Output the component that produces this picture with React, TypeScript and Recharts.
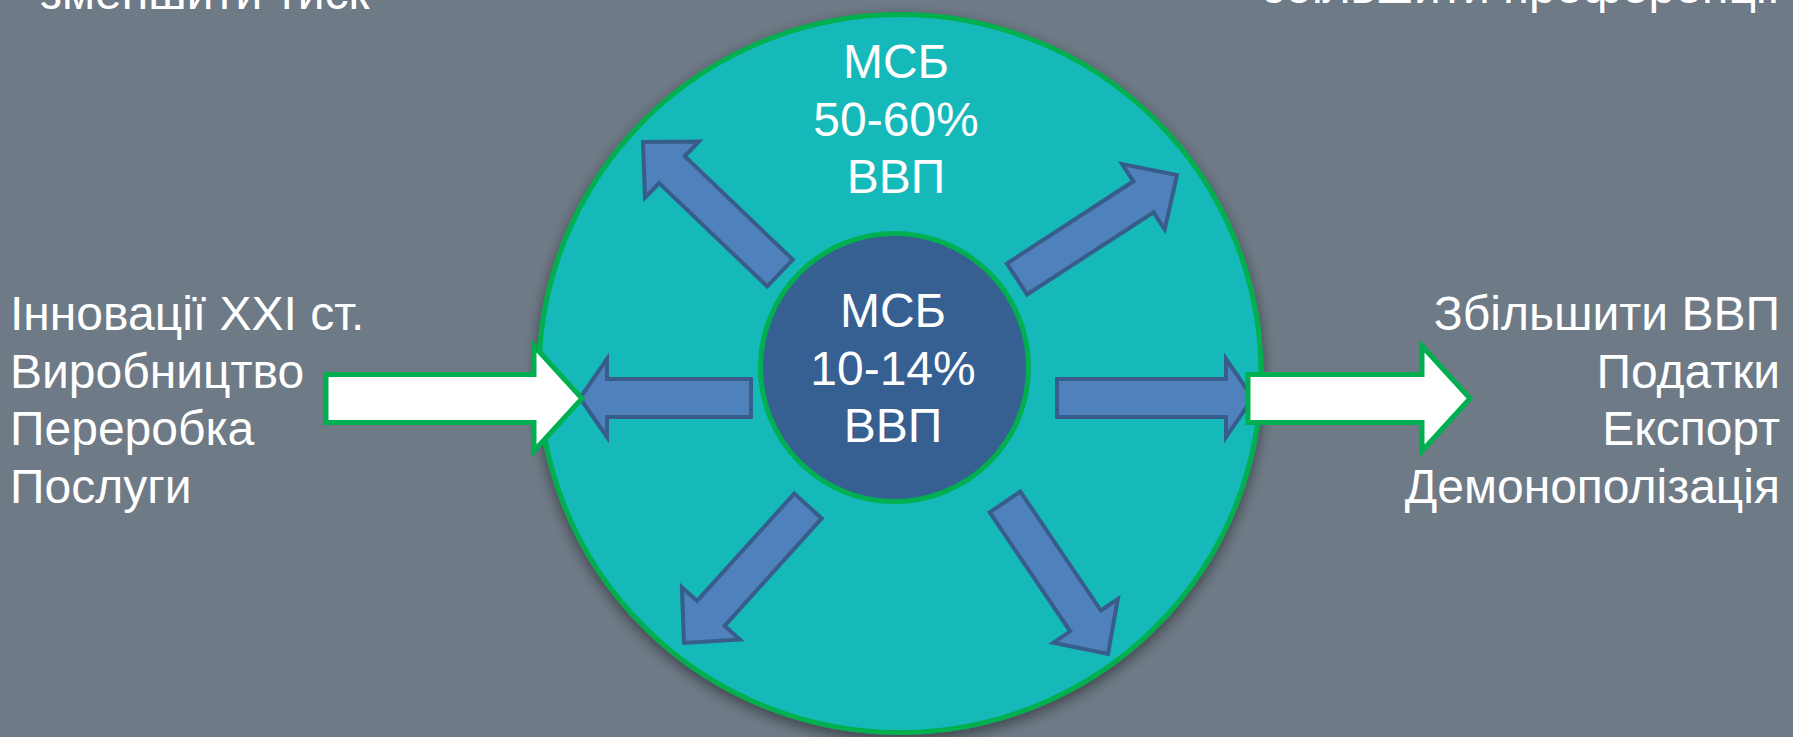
import { ScatterChart, Scatter, XAxis, YAxis } from "recharts";

const CHART_W = 1793;
const CHART_H = 737;

// diagram space: one unit per slide pixel, y grows downwards
const X_DOMAIN = [0, 1793];
const Y_DOMAIN = [0, 737];

const rings = [
  { name: "outer", x: 900, y: 373.5, rx: 361, ry: 359 },
  { name: "inner", x: 894.5, y: 367.5, rx: 134, ry: 134 },
];

// tail point (x, y) and tip point of each blue arrow
const blueArrows = [
  { x: 751, y: 398, tipX: 580, tipY: 398, kind: "flat" },
  { x: 1057, y: 398, tipX: 1253, tipY: 398, kind: "flat" },
  { x: 780, y: 273, tipX: 643, tipY: 142, kind: "diag" },
  { x: 1017, y: 279, tipX: 1177, tipY: 175, kind: "diag" },
  { x: 808, y: 506, tipX: 684, tipY: 643, kind: "diag" },
  { x: 1005, y: 502, tipX: 1108, tipY: 654, kind: "diag" },
];

const whiteArrows = [
  { x: 326, y: 398.5, tipX: 582, tipY: 398.5, kind: "big" },
  { x: 1248, y: 398.5, tipX: 1470, tipY: 398.5, kind: "big" },
];

const outerLines = ["МСБ", "50-60%", "ВВП"];
const innerLines = ["МСБ", "10-14%", "ВВП"];
const leftLines = ["Інновації XXI ст.", "Виробництво", "Переробка", "Послуги"];
const rightLines = ["Збільшити ВВП", "Податки", "Експорт", "Демонополізація"];
const topLeftLines = ["зменшити тиск"];
const topRightLines = ["збільшити преференції"];

const textBlocks = [
  { lines: outerLines, x: 896, y: 78, anchor: "middle" },
  { lines: innerLines, x: 893, y: 327, anchor: "middle" },
  { lines: leftLines, x: 10, y: 330, anchor: "start" },
  { lines: rightLines, x: 1780, y: 330, anchor: "end" },
  { lines: topLeftLines, x: 40, y: 9, anchor: "start" },
  { lines: topRightLines, x: 1780, y: 3, anchor: "end" },
];

const LINE_GAP = 57.5;
const K = CHART_W / (X_DOMAIN[1] - X_DOMAIN[0]);

const labels = textBlocks.flatMap((b) =>
  b.lines.map((text, i) => ({ x: b.x, y: b.y + i * LINE_GAP, text, anchor: b.anchor }))
);

const arrowSizes: Record<string, { bw: number; hw: number; hl: number }> = {
  flat: { bw: 19, hw: 39, hl: 27 },
  diag: { bw: 18.5, hw: 39, hl: 40 },
  big: { bw: 24, hw: 52.5, hl: 48 },
};

const BG = "#6e7a86";
const GREEN = "#00b050";
const FONT = "'Liberation Sans', Arial, sans-serif";

function arrowPath(cx: number, cy: number, dx: number, dy: number, kind: string) {
  const { bw, hw, hl } = arrowSizes[kind];
  const len = Math.hypot(dx, dy);
  const ux = dx / len;
  const uy = dy / len;
  const nx = -uy;
  const ny = ux;
  const tx = cx + dx;
  const ty = cy + dy;
  const bx = tx - ux * hl;
  const by = ty - uy * hl;
  const pts = [
    [cx + nx * bw, cy + ny * bw],
    [bx + nx * bw, by + ny * bw],
    [bx + nx * hw, by + ny * hw],
    [tx, ty],
    [bx - nx * hw, by - ny * hw],
    [bx - nx * bw, by - ny * bw],
    [cx - nx * bw, cy - ny * bw],
  ];
  return "M" + pts.map((p) => p[0].toFixed(1) + "," + p[1].toFixed(1)).join("L") + "Z";
}

const RingShape = (props: any) => {
  const { cx, cy } = props;
  const d = props.payload ?? props;
  const outer = d.name === "outer";
  return (
    <g>
      {outer && (
        <defs>
          <filter id="ringShadow" x="-20%" y="-20%" width="140%" height="140%">
            <feDropShadow dx="0" dy="5" stdDeviation="7" floodColor="#000" floodOpacity="0.45" />
          </filter>
        </defs>
      )}
      <ellipse
        cx={cx}
        cy={cy}
        rx={d.rx * K}
        ry={d.ry * K}
        fill={outer ? "#18b9b9" : "#366092"}
        stroke={GREEN}
        strokeWidth={5}
        filter={outer ? "url(#ringShadow)" : undefined}
      />
    </g>
  );
};

const BlueArrow = (props: any) => {
  const { cx, cy } = props;
  const d = props.payload ?? props;
  return (
    <path
      d={arrowPath(cx, cy, (d.tipX - d.x) * K, (d.tipY - d.y) * K, d.kind)}
      fill="#4f81bd"
      stroke="#385d8a"
      strokeWidth={4}
      strokeLinejoin="miter"
    />
  );
};

const WhiteArrow = (props: any) => {
  const { cx, cy } = props;
  const d = props.payload ?? props;
  return (
    <path
      d={arrowPath(cx, cy, (d.tipX - d.x) * K, (d.tipY - d.y) * K, d.kind)}
      fill="#ffffff"
      stroke={GREEN}
      strokeWidth={5}
      strokeLinejoin="miter"
    />
  );
};

const TextShape = (props: any) => {
  const { cx, cy } = props;
  const d = props.payload ?? props;
  return (
    <text x={cx} y={cy} textAnchor={d.anchor} fill="#ffffff" fontSize={48} fontFamily={FONT}>
      {d.text}
    </text>
  );
};

export default function App() {
  return (
    <div style={{ position: "absolute", left: 0, top: 0, width: CHART_W, height: CHART_H, background: BG }}>
      <ScatterChart width={CHART_W} height={CHART_H} margin={{ top: 0, right: 0, bottom: 0, left: 0 }}>
        <XAxis type="number" dataKey="x" domain={X_DOMAIN} allowDataOverflow hide />
        <YAxis type="number" dataKey="y" domain={Y_DOMAIN} allowDataOverflow reversed hide />
        <Scatter data={rings} shape={RingShape} isAnimationActive={false} />
        <Scatter data={blueArrows} shape={BlueArrow} isAnimationActive={false} />
        <Scatter data={whiteArrows} shape={WhiteArrow} isAnimationActive={false} />
        <Scatter data={labels} shape={TextShape} isAnimationActive={false} />
      </ScatterChart>
    </div>
  );
}
